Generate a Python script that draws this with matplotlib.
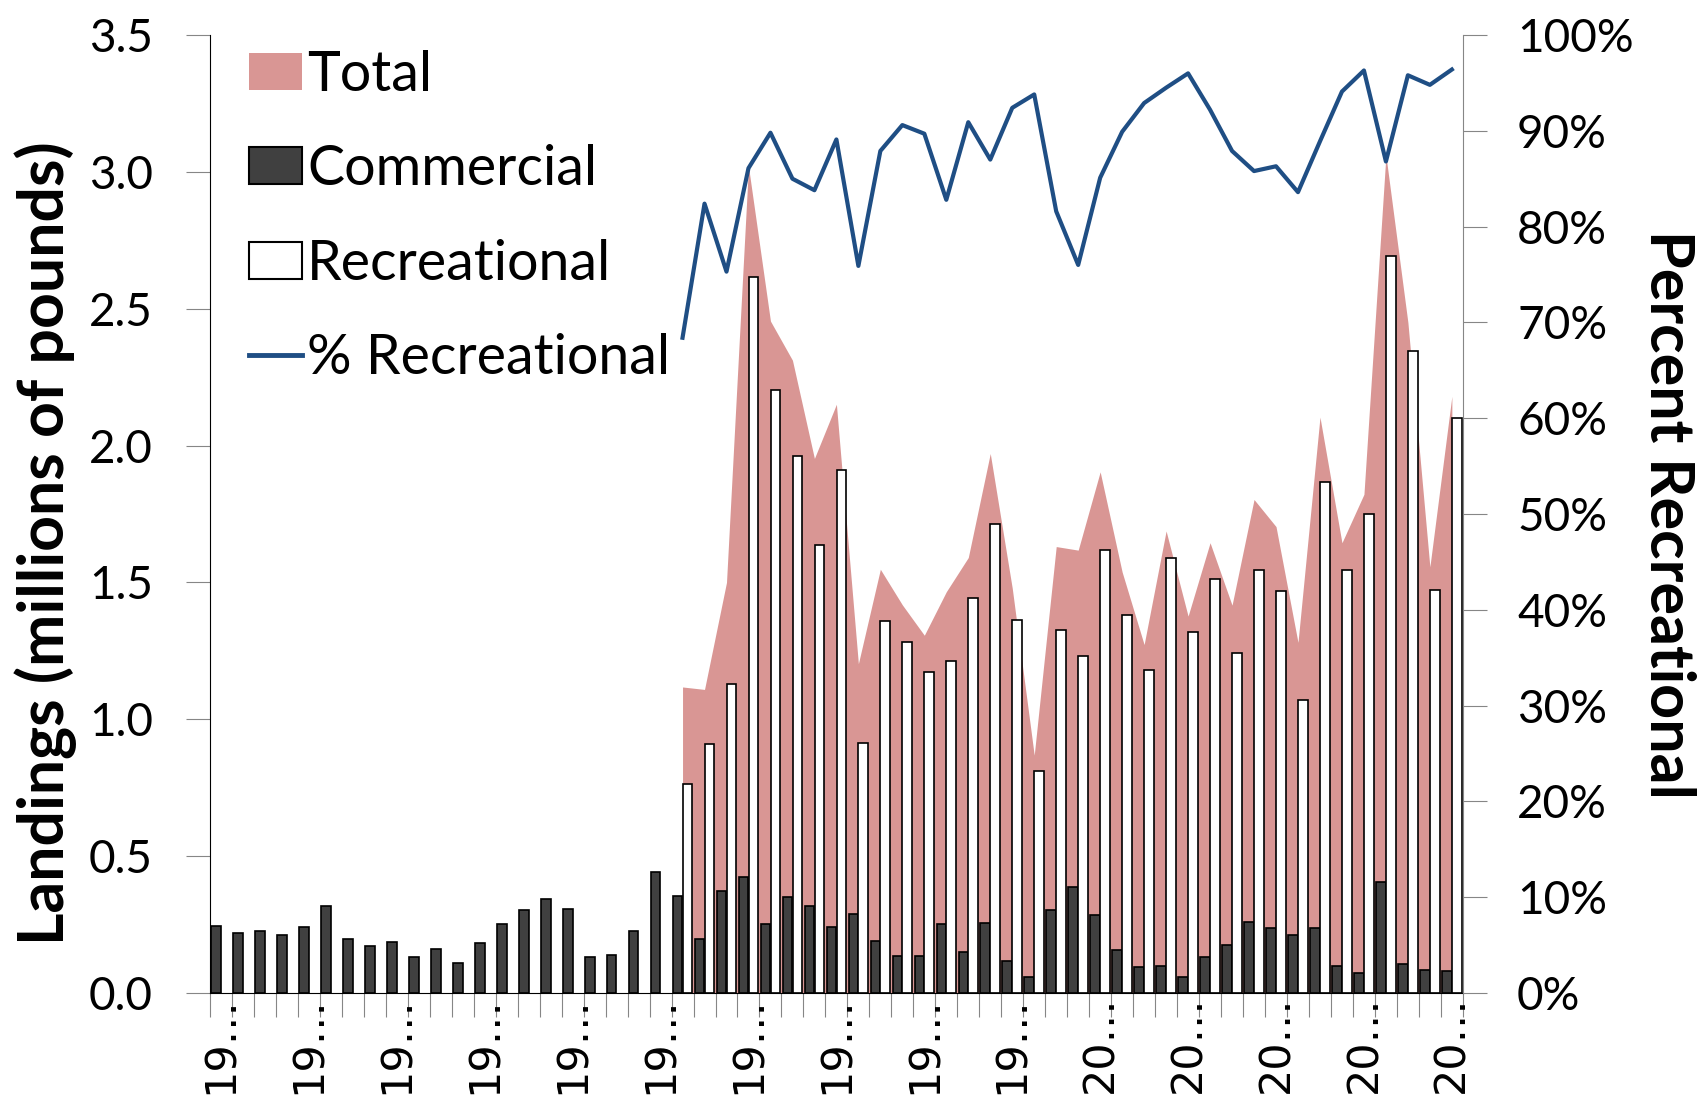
#!/usr/bin/env python
# landings by sector with percent recreational on a second axis
import numpy as np
import matplotlib
matplotlib.use('Agg')
import matplotlib.pyplot as plt
from matplotlib.patches import Patch
from matplotlib.lines import Line2D
from matplotlib import font_manager

years = list(range(1960, 2017))
commercial = [0.246, 0.220, 0.226, 0.211, 0.240, 0.317, 0.198, 0.170, 0.187, 0.131,
              0.161, 0.110, 0.184, 0.251, 0.303, 0.342, 0.306, 0.133, 0.138, 0.228,
              0.443, 0.356, 0.198, 0.371, 0.425, 0.252, 0.349, 0.317, 0.240, 0.290,
              0.190, 0.136, 0.136, 0.252, 0.148, 0.256, 0.115, 0.057, 0.304, 0.387,
              0.286, 0.158, 0.094, 0.097, 0.058, 0.133, 0.174, 0.258, 0.236, 0.211,
              0.237, 0.100, 0.072, 0.406, 0.105, 0.083, 0.080]

# recreational survey years only
rec_years = list(range(1981, 2017))
recreational = [0.762, 0.911, 1.129, 2.615, 2.203, 1.963, 1.636, 1.911, 0.913, 1.358,
                1.282, 1.171, 1.214, 1.443, 1.715, 1.364, 0.812, 1.327, 1.231, 1.618,
                1.380, 1.179, 1.591, 1.319, 1.512, 1.243, 1.545, 1.468, 1.070, 1.867,
                1.545, 1.750, 2.692, 2.345, 1.474, 2.100]
total = [1.118, 1.109, 1.500, 3.02, 2.455, 2.312, 1.953, 2.151, 1.203, 1.548,
         1.418, 1.307, 1.466, 1.591, 1.971, 1.479, 0.869, 1.631, 1.618, 1.904,
         1.538, 1.273, 1.688, 1.377, 1.645, 1.417, 1.803, 1.704, 1.281, 2.104,
         1.645, 1.822, 3.06, 2.450, 1.557, 2.180]
pct_rec = [68.4, 82.4, 75.3, 86.1, 89.8, 85.0, 83.8, 89.1, 75.9, 87.9,
           90.6, 89.7, 82.8, 90.9, 87.0, 92.4, 93.8, 81.6, 76.0, 85.1,
           89.9, 92.9, 94.5, 96.0, 92.2, 87.9, 85.8, 86.3, 83.6, 88.9,
           94.1, 96.3, 86.8, 95.8, 94.8, 96.4]

pink = '#D99694'
dark = '#404040'
blue = '#1F4E84'
grey = '#868686'

names = {f.name for f in font_manager.fontManager.ttflist}
main_font = 'Lato' if 'Lato' in names else 'DejaVu Sans'
narrow_font = 'Liberation Sans Narrow' if 'Liberation Sans Narrow' in names else main_font
plt.rcParams['font.family'] = main_font

x = np.arange(len(years))
xr = np.array([years.index(y) for y in rec_years])
w = 0.44

fig = plt.figure(figsize=(17, 10.95), dpi=100)
ax = fig.add_axes([0.1235, 0.0932, 0.737, 0.8748])

ax.fill_between(xr, 0, total, color=pink, lw=0, zorder=1)
ax.bar(x - 0.225, commercial, w, color=dark, edgecolor='black', lw=1.2, zorder=2)
ax.bar(xr + 0.225, recreational, w, color='white', edgecolor='black', lw=1.2, zorder=2)

ax.set_xlim(-0.5, len(years) - 0.5)
ax.set_ylim(0, 3.5)
ax.set_yticks(np.arange(0, 3.51, 0.5))
ax.set_yticklabels(['%.1f' % v for v in np.arange(0, 3.51, 0.5)], fontsize=33)
ax.tick_params(axis='y', direction='out', length=17, color=grey, pad=24)

# category boundary ticks, labels every 4th year
ax.set_xticks(np.arange(-0.5, len(years), 1))
ax.set_xticklabels([])
ax.tick_params(axis='x', which='major', direction='out', length=17, color=grey)
lab_idx = list(range(0, len(years), 4))
ax.set_xticks(lab_idx, minor=True)
ax.set_xticklabels([str(years[i])[:2] + '\u2026' for i in lab_idx], minor=True,
                   rotation=90, fontsize=31, family='DejaVu Sans')
ax.tick_params(axis='x', which='minor', length=0, pad=2)

ax.spines['top'].set_visible(False)
ax.spines['right'].set_visible(False)
ax.set_ylabel('Landings (millions of pounds)', fontsize=45, fontweight='bold')
ax.yaxis.set_label_coords(-0.106, 0.47)

ax2 = ax.twinx()
ax2.plot(xr, pct_rec, color=blue, lw=3.0, zorder=3)
ax2.set_ylim(0, 100)
ax2.set_yticks(np.arange(0, 101, 10))
ax2.set_yticklabels(['%d%%' % v for v in range(0, 101, 10)], fontsize=33)
ax2.tick_params(axis='y', direction='out', length=17, color=grey, pad=22)
ax2.spines['top'].set_visible(False)
ax2.spines['left'].set_visible(False)
ax2.spines['bottom'].set_visible(False)
ax2.spines['right'].set_color(grey)
ax2.set_ylabel('Percent Recreational', fontsize=44, fontweight='bold',
               family=narrow_font, rotation=270, labelpad=45)

handles = [Patch(facecolor=pink, edgecolor='none'),
           Patch(facecolor=dark, edgecolor='black', lw=1.5),
           Patch(facecolor='white', edgecolor='black', lw=1.5),
           Line2D([0], [0], color=blue, lw=3.5)]
ax2.legend(handles, ['Total', 'Commercial', 'Recreational', '% Recreational'],
           loc='upper left', bbox_to_anchor=(0.0, 1.025), frameon=False, fontsize=40,
           handlelength=0.95, handleheight=0.65, handletextpad=0.1,
           labelspacing=0.78, borderaxespad=0.3)

fig.savefig('out.png', dpi=100)
